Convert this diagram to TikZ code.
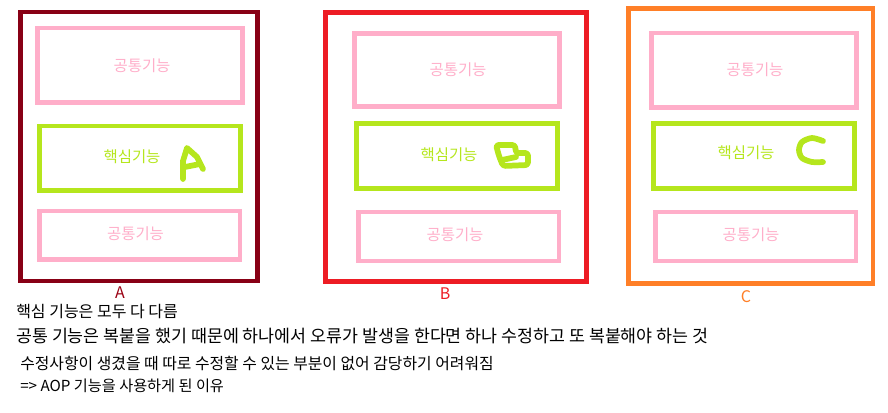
\documentclass[tikz,border=0pt]{standalone}
\usepackage{fontspec}
\setmainfont{Noto Sans CJK KR}
\definecolor{darkred}{HTML}{880015}
\definecolor{paintred}{HTML}{ED1C24}
\definecolor{paintorange}{HTML}{FF7F27}
\definecolor{rose}{HTML}{FFAEC9}
\definecolor{lime}{HTML}{B5E61D}

\begin{document}
\begin{tikzpicture}[
  x=0.75pt, y=-0.75pt,
  module/.style={draw, line width=3.4pt, inner sep=0pt},
  common/.style={draw=rose, line width=3.4pt, inner sep=0pt, minimum width=152pt, minimum height=36.4pt},
  core/.style={draw=lime, line width=3.4pt, inner sep=0pt, minimum width=151.1pt, minimum height=49pt},
  txt/.style={inner sep=0pt, font=\fontsize{11.6}{13}\selectfont},
  note/.style={anchor=west, inner sep=0pt, font=\fontsize{12}{14}\selectfont},
  scribble/.style={draw=lime, line width=4.3pt, line cap=round, line join=round}
]
\useasboundingbox (0,0) rectangle (888,413);

% module A
\node[module, draw=darkred, minimum width=178.1pt, minimum height=201.4pt] (modA) at (139,146.5) {};
\node[common, minimum width=154.1pt, minimum height=55.9pt] (topA) at (140,65.5) {};
\node[core, minimum height=48.4pt] (coreA) at (140,158.5) {};
\node[common, minimum width=150.4pt] (botA) at (139.5,235.5) {};
\node[txt, text=rose] (topAtxt) at (142,66) {공통기능};
\node[txt, text=lime] (coreAtxt) at (132,157) {핵심기능};
\node[txt, text=rose] (botAtxt) at (135.5,234) {공통기능};
\draw[scribble] (183,179) -- (183,161) -- (187,148) -- (197,157) -- (203,169);
\draw[scribble] (185,167) -- (200,164);
\node[inner sep=0pt, text=darkred!85!red, font=\fontsize{12}{14}\selectfont] (labA) at (120,293) {A};

% module B
\node[module, draw=paintred, minimum width=196.1pt, minimum height=202.1pt] (modB) at (456,147) {};
\node[common, minimum width=154.1pt, minimum height=55.1pt] (topB) at (457,70) {};
\node[core] (coreB) at (457,156) {};
\node[common, minimum width=150.4pt] (botB) at (458.5,236.5) {};
\node[txt, text=rose] (topBtxt) at (458,70) {공통기능};
\node[txt, text=lime] (coreBtxt) at (449,155) {핵심기능};
\node[txt, text=rose] (botBtxt) at (455,235) {공통기능};
\draw[scribble, rounded corners=2pt] (496,145) -- (515,145) -- (516,153) -- (528,153) -- (528,165) -- (503,166) -- (499,156) -- cycle;
\draw[scribble] (502,160) -- (516,157);
\node[inner sep=0pt, text=paintred, font=\fontsize{12}{14}\selectfont] (labB) at (445,294) {B};

% module C
\node[module, draw=paintorange, minimum width=183.4pt, minimum height=206.6pt] (modC) at (750.5,146) {};
\node[common, minimum width=154.1pt, minimum height=55.9pt] (topC) at (754,70.5) {};
\node[core] (coreC) at (754,156) {};
\node[common, minimum width=150.4pt] (botC) at (755.5,236.5) {};
\node[txt, text=rose] (topCtxt) at (755,70) {공통기능};
\node[txt, text=lime] (coreCtxt) at (746,153) {핵심기능};
\node[txt, text=rose] (botCtxt) at (751,235) {공통기능};
\draw[scribble] plot[smooth] coordinates {(823,141) (812,138) (802,142) (799,150) (802,158) (812,162) (823,162)};
\node[inner sep=0pt, text=paintorange, font=\fontsize{12}{14}\selectfont] (labC) at (746,297) {C};

% notes
\node[note] (note1) at (16,312) {핵심 기능은 모두 다 다름};
\node[note, font=\fontsize{13}{15}\selectfont] (note2) at (16,336) {공통 기능은 복붙을 했기 때문에 하나에서 오류가 발생을 한다면 하나 수정하고 또 복붙해야 하는 것};
\node[note, font=\fontsize{11.9}{14}\selectfont] (note3) at (20,363) {수정사항이 생겼을 때 따로 수정할 수 있는 부분이 없어 감당하기 어려워짐};
\node[note, font=\fontsize{11.4}{13}\selectfont] (note4) at (20,386) {=> AOP 기능을 사용하게 된 이유};
\end{tikzpicture}
\end{document}
